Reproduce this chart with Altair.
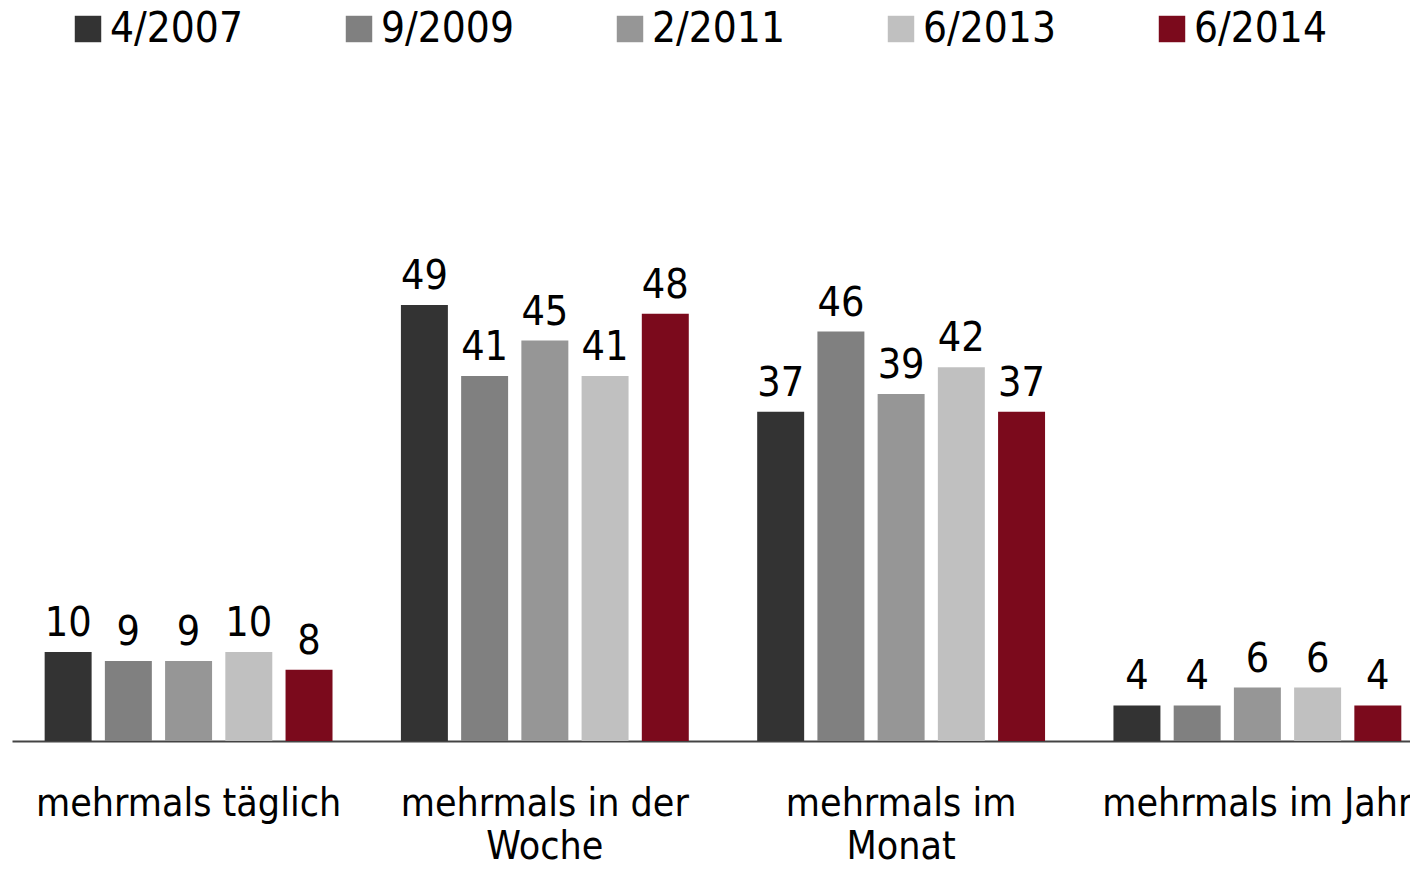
import altair as alt
import pandas as pd

categories = ["mehrmals täglich", "mehrmals in der Woche", "mehrmals im Monat", "mehrmals im Jahr"]
series = ["4/2007", "9/2009", "2/2011", "6/2013", "6/2014"]
colors = ["#333333", "#808080", "#969696", "#c0c0c0", "#7b0a1c"]

v_2007 = [10, 49, 37, 4]
v_2009 = [9, 41, 46, 4]
v_2011 = [9, 45, 39, 6]
v_2013 = [10, 41, 42, 6]
v_2014 = [8, 48, 37, 4]

rows = []
for s, vals in zip(series, [v_2007, v_2009, v_2011, v_2013, v_2014]):
    for c, v in zip(categories, vals):
        rows.append({"Kategorie": c, "Zeitpunkt": s, "Wert": v})
df = pd.DataFrame(rows)

FONT = "DejaVu Sans Condensed, DejaVu Sans"

label_expr = (
    "datum.value == 'mehrmals in der Woche' ? ['mehrmals in der', 'Woche'] : "
    "datum.value == 'mehrmals im Monat' ? ['mehrmals im', 'Monat'] : datum.value"
)

x = alt.X(
    "Kategorie:N",
    sort=categories,
    scale=alt.Scale(paddingInner=0.192, paddingOuter=0.058, align=0.79),
    axis=alt.Axis(
        title=None,
        labelAngle=0,
        ticks=False,
        domain=True,
        domainColor="#444444",
        domainWidth=2,
        labelFont=FONT,
        labelFontSize=39,
        labelColor="#000000",
        labelBaseline="top",
        labelPadding=43,
        labelLineHeight=43,
        labelLimit=0,
        labelExpr=label_expr,
    ),
)
xo = alt.XOffset("Zeitpunkt:N", sort=series, scale=alt.Scale(paddingInner=0.22, paddingOuter=0))
y = alt.Y("Wert:Q", scale=alt.Scale(domain=[0, 60], nice=False, zero=True), axis=None)

bars = alt.Chart(df).mark_bar().encode(
    x=x,
    xOffset=xo,
    y=y,
    color=alt.Color(
        "Zeitpunkt:N",
        sort=series,
        scale=alt.Scale(domain=series, range=colors),
        legend=alt.Legend(
            title=None,
            orient="none",
            direction="horizontal",
            legendX=55,
            legendY=-199,
            symbolType="square",
            symbolSize=700,
            symbolStrokeWidth=0,
            symbolOpacity=1,
            labelFont=FONT,
            labelFontSize=42,
            labelColor="#000000",
            labelOffset=1,
            labelLimit=0,
            columnPadding=95,
            padding=0,
        ),
    ),
)

texts = alt.Chart(df).mark_text(
    font=FONT, fontSize=41, color="#000000", baseline="alphabetic", dy=-16
).encode(x=x, xOffset=xo, y=y, text="Wert:Q")

chart = (
    alt.layer(bars, texts)
    .properties(
        width=1398,
        height=534,
        background="#ffffff",
        autosize=alt.AutoSizeParams(type="none"),
        padding={"left": 4, "top": 199, "right": 0, "bottom": 122},
    )
    .configure_view(strokeWidth=0, stroke=None)
)

chart.save("out.html", embed_options={"renderer": "svg", "actions": False})
